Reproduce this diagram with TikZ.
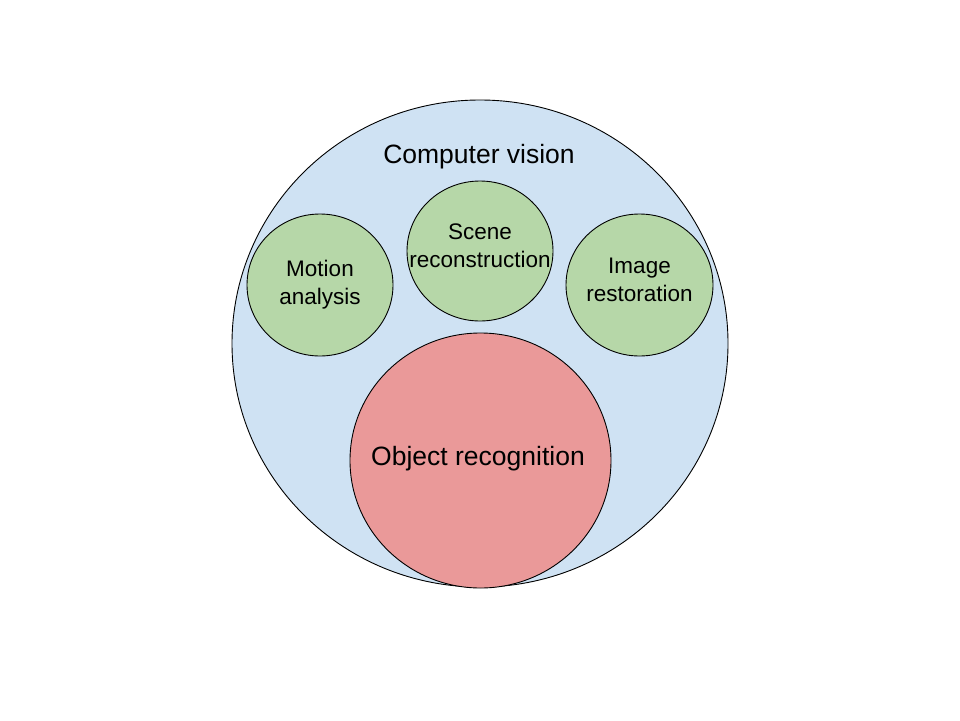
\documentclass[tikz,border=0pt]{standalone}
\usepackage{fontspec}
\setmainfont{Liberation Sans}
\usetikzlibrary{shapes.geometric}
\definecolor{cvblue}{HTML}{CFE2F3}
\definecolor{cvgreen}{HTML}{B6D7A8}
\definecolor{cvred}{HTML}{EA9999}
\tikzset{
  blob/.style={ellipse, draw=black, line width=0.9pt, inner sep=0pt},
  bigtxt/.style={font=\fontsize{26.5}{31}\selectfont, anchor=base, inner sep=0pt},
  smalltxt/.style={font=\fontsize{22.5}{27.5}\selectfont, align=center, anchor=base, inner sep=0pt}
}
\begin{document}
\begin{tikzpicture}[x=1pt,y=-1pt]
\useasboundingbox (0,0) rectangle (960,720);
\node[blob, fill=cvblue, minimum width=496pt, minimum height=487pt] (cv) at (480,343.5) {};
\node[blob, fill=cvgreen, minimum width=146pt, minimum height=142pt] (ma) at (320,285) {};
\node[blob, fill=cvgreen, minimum width=146pt, minimum height=140pt] (sr) at (480,251) {};
\node[blob, fill=cvgreen, minimum width=147pt, minimum height=142pt] (ir) at (639.5,285) {};
\node[blob, fill=cvred, minimum width=261pt, minimum height=255pt] (or) at (480.5,460.5) {};
\node[bigtxt] (cvt) at (479,163) {Computer vision};
\node[bigtxt] (ort) at (478,465) {Object recognition};
\node[smalltxt] (mat) at (320,304) {Motion\\analysis};
\node[smalltxt] (srt) at (480,267) {Scene\\reconstruction};
\node[smalltxt] (irt) at (639.5,301) {Image\\restoration};
\end{tikzpicture}
\end{document}
